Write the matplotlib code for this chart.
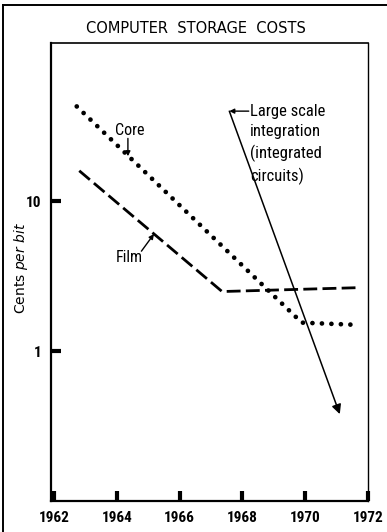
import matplotlib
matplotlib.use("Agg")
import matplotlib.pyplot as plt
from matplotlib.lines import Line2D
from matplotlib import font_manager

# --- data -------------------------------------------------------------
core_years = [1962.72, 1969.89, 1971.58]
core_cents = [43.0, 1.55, 1.50]

film_years = [1962.80, 1967.35, 1971.60]
film_cents = [16.0, 2.50, 2.65]

lsi_years = [1967.58, 1971.10]
lsi_cents = [40.0, 0.38]

year_ticks = [1962, 1964, 1966, 1968, 1970, 1972]
cent_ticks = [1, 10]
cent_tick_labels = ["1", "10"]

# --- fonts: prefer a narrow sans face when one is installed -------------
names = {f.name for f in font_manager.fontManager.ttflist}
condensed = sorted({f.name for f in font_manager.fontManager.ttflist
                    if str(f.stretch) in ("condensed", "semi-condensed", "extra-condensed")
                    or "Narrow" in f.name or "Condensed" in f.name})
preferred = ["Liberation Sans Narrow", "Roboto Condensed", "DejaVu Sans"]
narrow = next((n for n in preferred if n in names), None)
if narrow == "DejaVu Sans" and condensed:
    narrow = condensed[0]
if narrow is None or narrow == "DejaVu Sans":
    narrow = "Roboto" if "Roboto" in names else "DejaVu Sans"
fam = [narrow, "DejaVu Sans"]
stretch = "condensed"

fig = plt.figure(figsize=(3.87, 5.32), dpi=100)
ax = fig.add_axes([0.1318, 0.0583, 0.951 - 0.1318, 0.9192 - 0.0583])

ax.set_yscale("log")
ax.set_xlim(1961.9, 1972)
ax.set_ylim(0.1, 114)

# Core memory: dotted
ax.plot(core_years, core_cents, color="black", lw=3.4,
        linestyle=(0, (0.01, 2.0)), dash_capstyle="round")
# Film memory: dashed
ax.plot(film_years, film_cents, color="black", lw=2.0,
        linestyle=(0, (5.0, 1.9)), dash_capstyle="butt")

# Large scale integration projection: solid arrow
ax.annotate("", xy=(lsi_years[1], lsi_cents[1]), xytext=(lsi_years[0], lsi_cents[0]),
            arrowprops=dict(arrowstyle="-|>", color="black", lw=1.1,
                            mutation_scale=14, shrinkA=0, shrinkB=0))

pointer = dict(arrowstyle="-|>", color="black", lw=1.0,
               mutation_scale=7, shrinkA=0, shrinkB=0)

# Core label and pointer
ax.text(1964.40, 29.5, "Core", ha="center", va="center", fontsize=11.5,
        family=fam, fontstretch=stretch)
ax.annotate("", xy=(1964.35, 20.0), xytext=(1964.35, 26.3), arrowprops=pointer)

# Film label and pointer
ax.text(1964.38, 4.25, "Film", ha="center", va="center", fontsize=11.5,
        family=fam, fontstretch=stretch)
ax.annotate("", xy=(1965.18, 6.05), xytext=(1964.78, 4.65), arrowprops=pointer)

# LSI label and pointer
ax.annotate("", xy=(lsi_years[0], lsi_cents[0]), xytext=(1968.2, lsi_cents[0]),
            arrowprops=pointer)
ax.text(1968.24, 44.8, "Large scale\nintegration\n(integrated\ncircuits)",
        ha="left", va="top", fontsize=12, family=fam, fontstretch=stretch,
        linespacing=1.43, transform=ax.transData)

# axes styling
ax.set_xticks(year_ticks)
ax.set_xticklabels([str(y) for y in year_ticks], fontsize=11, fontweight="bold",
                   family=fam, fontstretch=stretch)
ax.set_yticks(cent_ticks)
ax.set_yticklabels(cent_tick_labels, fontsize=11, fontweight="bold",
                   family=fam, fontstretch=stretch)
ax.yaxis.set_minor_locator(matplotlib.ticker.NullLocator())
ax.tick_params(axis="both", which="major", direction="in", length=7, width=3, color="black")
ax.tick_params(axis="x", pad=7)
ax.tick_params(axis="y", pad=7)

for side, w in (("left", 1.6), ("bottom", 1.6), ("top", 1.2), ("right", 1.0)):
    ax.spines[side].set_linewidth(w)
    ax.spines[side].set_color("black")

fig.text(0.055, 0.496, r"Cents $\mathit{per\ bit}$", rotation=90,
         ha="center", va="center", fontsize=10, family="DejaVu Sans")

fig.text(0.506, 0.947, "COMPUTER  STORAGE  COSTS", ha="center", va="center",
         fontsize=10.5, fontweight="normal", family="DejaVu Sans")

# outer border (top and left)
fig.add_artist(Line2D([3 / 387, 3 / 387], [0.0, 1 - 5 / 532],
                      transform=fig.transFigure, color="black", lw=1.4))
fig.add_artist(Line2D([3 / 387, 1.0], [1 - 5 / 532, 1 - 5 / 532],
                      transform=fig.transFigure, color="black", lw=1.4))

fig.savefig("out.png", dpi=100)
